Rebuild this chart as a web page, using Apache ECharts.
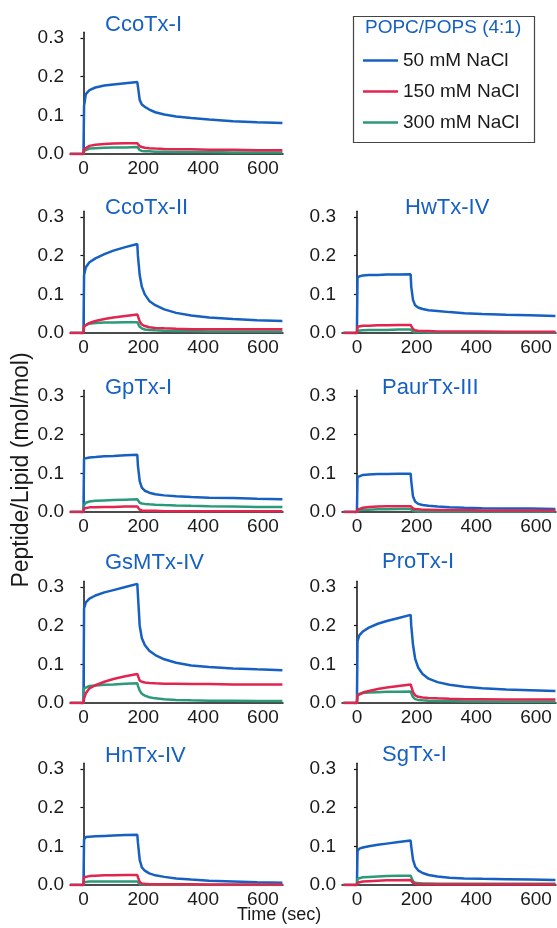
<!DOCTYPE html>
<html>
<head>
<meta charset="utf-8">
<script src="https://cdn.jsdelivr.net/npm/echarts@6/dist/echarts.min.js"></script>
<style>
  html, body { margin: 0; padding: 0; background: #fff; }
  #main { width: 557px; height: 928px; }
</style>
</head>
<body>
<div id="main"></div>
<script>
// sample times (sec), shared by every trace
var TIME = [-45, 0, 2, 8, 20, 40, 70, 100, 140, 180, 182, 188, 195, 205, 220, 240, 270, 310, 360, 420, 500, 580, 665];

var SALTS = ['50 mM NaCl', '150 mM NaCl', '300 mM NaCl'];
var X_TICKS = [0, 200, 400, 600];
var Y_TICKS = [0, 0.1, 0.2, 0.3];

// CcoTx-I
var ccoI_50  = [0, 0, 0.125, 0.155, 0.165, 0.172, 0.177, 0.18, 0.183, 0.186, 0.175, 0.14, 0.128, 0.122, 0.115, 0.108, 0.102, 0.097, 0.093, 0.089, 0.085, 0.082, 0.08];
var ccoI_150 = [0, 0, 0.012, 0.017, 0.021, 0.024, 0.026, 0.027, 0.028, 0.028, 0.026, 0.02, 0.018, 0.016, 0.015, 0.014, 0.013, 0.012, 0.012, 0.011, 0.011, 0.01, 0.01];
var ccoI_300 = [0, 0, 0.008, 0.012, 0.014, 0.015, 0.016, 0.017, 0.017, 0.018, 0.015, 0.01, 0.008, 0.007, 0.007, 0.006, 0.006, 0.005, 0.005, 0.005, 0.004, 0.004, 0.004];
// CcoTx-II
var ccoII_50  = [0, 0, 0.15, 0.17, 0.183, 0.193, 0.204, 0.213, 0.222, 0.23, 0.2, 0.15, 0.12, 0.1, 0.083, 0.072, 0.061, 0.052, 0.045, 0.04, 0.036, 0.033, 0.031];
var ccoII_150 = [0, 0, 0.018, 0.022, 0.026, 0.031, 0.036, 0.04, 0.044, 0.048, 0.044, 0.03, 0.022, 0.018, 0.015, 0.013, 0.012, 0.011, 0.01, 0.01, 0.01, 0.01, 0.01];
var ccoII_300 = [0, 0, 0.018, 0.022, 0.024, 0.026, 0.027, 0.027, 0.028, 0.028, 0.025, 0.016, 0.012, 0.009, 0.008, 0.007, 0.006, 0.005, 0.005, 0.004, 0.004, 0.004, 0.004];
// HwTx-IV
var hw_50  = [0, 0, 0.145, 0.148, 0.149, 0.15, 0.15, 0.151, 0.151, 0.152, 0.12, 0.085, 0.072, 0.066, 0.062, 0.059, 0.057, 0.054, 0.051, 0.049, 0.047, 0.046, 0.044];
var hw_150 = [0, 0, 0.016, 0.018, 0.019, 0.019, 0.02, 0.02, 0.021, 0.021, 0.018, 0.01, 0.007, 0.006, 0.005, 0.005, 0.004, 0.004, 0.004, 0.004, 0.003, 0.003, 0.003];
var hw_300 = [0, 0, 0.006, 0.007, 0.007, 0.008, 0.008, 0.008, 0.009, 0.009, 0.007, 0.004, 0.002, 0.002, 0.002, 0.001, 0.001, 0.001, 0.001, 0.001, 0.001, 0.001, 0.001];
// GpTx-I
var gp_50  = [0, 0, 0.138, 0.14, 0.141, 0.142, 0.144, 0.145, 0.147, 0.148, 0.12, 0.08, 0.063, 0.055, 0.05, 0.046, 0.043, 0.041, 0.039, 0.037, 0.036, 0.034, 0.033];
var gp_150 = [0, 0, 0.009, 0.011, 0.012, 0.012, 0.013, 0.013, 0.014, 0.014, 0.011, 0.006, 0.004, 0.003, 0.003, 0.003, 0.002, 0.002, 0.002, 0.002, 0.002, 0.002, 0.002];
var gp_300 = [0, 0, 0.018, 0.024, 0.027, 0.029, 0.03, 0.031, 0.032, 0.033, 0.03, 0.024, 0.022, 0.021, 0.02, 0.019, 0.018, 0.017, 0.016, 0.015, 0.014, 0.013, 0.013];
// PaurTx-III
var paur_50  = [0, 0, 0.09, 0.095, 0.096, 0.097, 0.098, 0.098, 0.099, 0.099, 0.08, 0.04, 0.027, 0.021, 0.018, 0.016, 0.014, 0.012, 0.011, 0.01, 0.009, 0.009, 0.008];
var paur_150 = [0, 0, 0.006, 0.009, 0.011, 0.013, 0.014, 0.015, 0.015, 0.015, 0.013, 0.009, 0.007, 0.007, 0.006, 0.006, 0.005, 0.005, 0.005, 0.004, 0.004, 0.004, 0.004];
var paur_300 = [0, 0, 0.004, 0.005, 0.006, 0.006, 0.007, 0.007, 0.008, 0.008, 0.006, 0.003, 0.002, 0.001, 0.001, 0.001, 0.001, 0.001, 0.001, 0.001, 0.001, 0.001, 0.001];
// GsMTx-IV
var gsm_50  = [0, 0, 0.245, 0.26, 0.27, 0.278, 0.286, 0.292, 0.3, 0.308, 0.28, 0.2, 0.168, 0.15, 0.135, 0.124, 0.113, 0.104, 0.097, 0.093, 0.089, 0.087, 0.085];
var gsm_150 = [0, 0, 0.012, 0.025, 0.038, 0.046, 0.055, 0.062, 0.069, 0.075, 0.07, 0.058, 0.055, 0.053, 0.052, 0.051, 0.05, 0.05, 0.049, 0.049, 0.048, 0.048, 0.048];
var gsm_300 = [0, 0, 0.038, 0.042, 0.044, 0.045, 0.047, 0.048, 0.05, 0.051, 0.045, 0.032, 0.024, 0.019, 0.015, 0.012, 0.01, 0.008, 0.007, 0.006, 0.006, 0.005, 0.005];
// ProTx-I
var pro_50  = [0, 0, 0.16, 0.175, 0.185, 0.195, 0.205, 0.212, 0.22, 0.228, 0.2, 0.15, 0.115, 0.092, 0.075, 0.063, 0.054, 0.047, 0.042, 0.038, 0.035, 0.033, 0.031];
var pro_150 = [0, 0, 0.02, 0.024, 0.027, 0.031, 0.036, 0.04, 0.044, 0.048, 0.043, 0.028, 0.02, 0.016, 0.014, 0.013, 0.012, 0.011, 0.01, 0.01, 0.009, 0.009, 0.009];
var pro_300 = [0, 0, 0.022, 0.025, 0.026, 0.027, 0.028, 0.029, 0.029, 0.03, 0.026, 0.015, 0.01, 0.008, 0.007, 0.006, 0.005, 0.005, 0.004, 0.004, 0.003, 0.003, 0.003];
// HnTx-IV
var hn_50  = [0, 0, 0.118, 0.124, 0.125, 0.126, 0.127, 0.128, 0.129, 0.13, 0.11, 0.065, 0.046, 0.037, 0.03, 0.025, 0.021, 0.017, 0.014, 0.011, 0.009, 0.007, 0.006];
var hn_150 = [0, 0, 0.02, 0.022, 0.023, 0.024, 0.025, 0.025, 0.026, 0.026, 0.02, 0.008, 0.004, 0.003, 0.002, 0.002, 0.002, 0.002, 0.002, 0.001, 0.001, 0.001, 0.001];
var hn_300 = [0, 0, 0.007, 0.008, 0.009, 0.009, 0.009, 0.009, 0.009, 0.009, 0.006, 0.002, 0.001, 0.001, 0.001, 0, 0, 0, 0, 0, 0, 0, 0];
// SgTx-I
var sg_50  = [0, 0, 0.088, 0.094, 0.097, 0.1, 0.104, 0.107, 0.111, 0.115, 0.1, 0.065, 0.048, 0.038, 0.031, 0.026, 0.022, 0.019, 0.017, 0.016, 0.015, 0.014, 0.013];
var sg_150 = [0, 0, 0.006, 0.008, 0.009, 0.01, 0.011, 0.012, 0.012, 0.013, 0.01, 0.005, 0.003, 0.002, 0.002, 0.002, 0.002, 0.002, 0.002, 0.002, 0.002, 0.002, 0.002];
var sg_300 = [0, 0, 0.016, 0.019, 0.02, 0.021, 0.022, 0.023, 0.024, 0.024, 0.02, 0.01, 0.006, 0.005, 0.004, 0.004, 0.003, 0.003, 0.003, 0.003, 0.003, 0.003, 0.003];

var PANELS = [
    { name: 'CcoTx-I',    col: 0, row: 0, tx: 105, ty: 14,  data: [ccoI_50, ccoI_150, ccoI_300] },
    { name: 'CcoTx-II',   col: 0, row: 1, tx: 105, ty: 197, data: [ccoII_50, ccoII_150, ccoII_300] },
    { name: 'HwTx-IV',    col: 1, row: 1, tx: 405, ty: 197, data: [hw_50, hw_150, hw_300] },
    { name: 'GpTx-I',     col: 0, row: 2, tx: 105, ty: 377, data: [gp_50, gp_150, gp_300] },
    { name: 'PaurTx-III', col: 1, row: 2, tx: 382, ty: 377, data: [paur_50, paur_150, paur_300] },
    { name: 'GsMTx-IV',   col: 0, row: 3, tx: 105, ty: 552, data: [gsm_50, gsm_150, gsm_300] },
    { name: 'ProTx-I',    col: 1, row: 3, tx: 382, ty: 551, data: [pro_50, pro_150, pro_300] },
    { name: 'HnTx-IV',    col: 0, row: 4, tx: 105, ty: 745, data: [hn_50, hn_150, hn_300] },
    { name: 'SgTx-I',     col: 1, row: 4, tx: 382, ty: 744, data: [sg_50, sg_150, sg_300] }
];

// layout (ROW_TOP is where the 0.3 tick sits; axis runs a little higher)
var COL_LEFT = [70, 342];
var COL_WIDTH = [213, 214];
var COL_XMIN = [-45, -50];
var ROW_TOP = [38, 217, 396, 587, 769];
var PLOT_H = 116;
var Y_MAX = 0.315;
var COLORS = ['#1660c2', '#e1254f', '#2b9a78'];
var FONT = 'Liberation Sans, Arial, sans-serif';

function pairs(vals) {
    return TIME.map(function (t, i) { return [t, vals[i]]; });
}

function buildOption() {
    var grids = [], xAxes = [], yAxes = [], series = [], titles = [];
    var extra = PLOT_H * (Y_MAX - 0.3) / 0.3;

    PANELS.forEach(function (p, k) {
        grids.push({
            left: COL_LEFT[p.col], top: ROW_TOP[p.row] - extra,
            width: COL_WIDTH[p.col], height: PLOT_H + extra
        });
        xAxes.push({
            type: 'value', gridIndex: k,
            min: COL_XMIN[p.col], max: 667,
            splitLine: { show: false },
            axisLine: { lineStyle: { color: '#111', width: 1.5 } },
            axisTick: { show: false },
            axisLabel: {
                customValues: X_TICKS, margin: 5,
                color: '#1a1a1a', fontSize: 19, fontFamily: FONT
            }
        });
        yAxes.push({
            type: 'value', gridIndex: k,
            min: 0, max: Y_MAX,
            splitLine: { show: false },
            axisLine: { show: true, lineStyle: { color: '#111', width: 1.5 } },
            axisTick: { show: true, customValues: Y_TICKS, length: 3, lineStyle: { color: '#111', width: 1.2 } },
            axisLabel: {
                customValues: Y_TICKS,
                margin: 6, color: '#1a1a1a', fontSize: 19, fontFamily: FONT,
                formatter: function (v) { return v.toFixed(1); }
            }
        });
        titles.push({
            text: p.name, left: p.tx, top: p.ty, padding: 0,
            textStyle: { color: COLORS[0], fontSize: 22, fontWeight: 'normal', fontFamily: FONT, lineHeight: 22 }
        });
        // draw blue, green then red on top
        [0, 2, 1].forEach(function (s) {
            series.push({
                type: 'line', name: SALTS[s],
                xAxisIndex: k, yAxisIndex: k,
                data: pairs(p.data[s]),
                symbol: 'none', silent: true,
                lineStyle: { color: COLORS[s], width: 2.5 },
                itemStyle: { color: COLORS[s] }
            });
        });
    });

    // legend title and x axis name
    titles.push({
        text: 'POPC/POPS (4:1)', left: 365, top: 18, padding: 0,
        textStyle: { color: COLORS[0], fontSize: 19, fontWeight: 'normal', fontFamily: FONT, lineHeight: 20 }
    });
    titles.push({
        text: 'Time (sec)', left: 237, top: 906, padding: 0,
        textStyle: { color: '#1a1a1a', fontSize: 18, fontWeight: 'normal', fontFamily: FONT, lineHeight: 18 }
    });

    return {
        backgroundColor: '#fff',
        animation: false,
        title: titles,
        grid: grids,
        xAxis: xAxes,
        yAxis: yAxes,
        legend: {
            data: SALTS, orient: 'vertical', left: 363, top: 51,
            icon: 'rect', itemWidth: 35, itemHeight: 2.5, itemGap: 12,
            selectedMode: false, padding: 0,
            textStyle: { color: '#1a1a1a', fontSize: 19, fontFamily: FONT }
        },
        graphic: [
            {
                type: 'rect', left: 351, top: 14, silent: true,
                shape: { width: 181, height: 126 },
                style: { fill: 'none', stroke: '#444', lineWidth: 1.2 }
            },
            {
                type: 'text', x: 22, y: 470, rotation: Math.PI / 2, silent: true,
                style: {
                    text: 'Peptide/Lipid (mol/mol)', fill: '#1a1a1a',
                    font: '23px ' + FONT, align: 'center', verticalAlign: 'middle'
                }
            }
        ],
        series: series
    };
}

var chart = echarts.init(document.getElementById('main'), null, { renderer: 'canvas' });
chart.setOption(buildOption());
</script>
</body>
</html>
